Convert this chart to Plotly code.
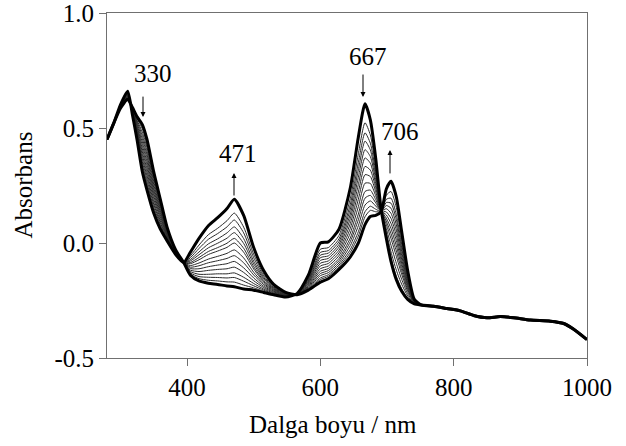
import plotly.graph_objects as go

# shared start and tail of all spectra (curves coincide there)
wl_head = [280, 290]
a_head = [0.45, 0.52]

wl_tail = [752, 770, 790, 810, 830, 850, 870, 890, 915, 945, 965, 980, 1000]
a_tail = [-0.27, -0.275, -0.285, -0.295, -0.315, -0.325, -0.32, -0.325, -0.335, -0.34,
          -0.35, -0.375, -0.42]

# wavelength grid of the changing region
wl_var = [300, 311, 318, 325, 333, 340, 350, 360, 370, 383,
          395, 405, 418, 432, 446, 460, 471, 485, 500, 515,
          530, 548, 565, 582, 600, 612, 628, 645, 657, 667,
          675, 683, 691, 699, 706, 714, 722, 731, 741]

# spectra of the titration, first (initial) to last (final)
s00 = [.585, .625, .590, .550, .515, .450, .310, .190, .070, -.030,
       -.085, -.140, -.165, -.175, -.180, -.187, -.190, -.200, -.205, -.215,
       -.225, -.235, -.220, -.140, .000, .005, .060, .240, .460, .605,
       .535, .370, .150, .020, -.080, -.160, -.210, -.245, -.265]
s01 = [.586, .628, .587, .541, .497, .430, .294, .178, .065, -.032,
       -.085, -.135, -.155, -.162, -.165, -.169, -.170, -.183, -.195, -.210,
       -.223, -.234, -.220, -.150, -.027, -.020, .033, .193, .388, .523,
       .470, .331, .149, .029, -.065, -.145, -.199, -.240, -.264]
s02 = [.587, .631, .585, .534, .482, .415, .281, .169, .060, -.033,
       -.085, -.130, -.146, -.149, -.150, -.152, -.150, -.166, -.186, -.205,
       -.220, -.233, -.221, -.156, -.041, -.033, .018, .168, .350, .479,
       .434, .310, .148, .045, -.039, -.118, -.179, -.230, -.263]
s03 = [.588, .633, .583, .527, .468, .399, .269, .160, .056, -.035,
       -.085, -.124, -.136, -.136, -.134, -.134, -.130, -.149, -.176, -.200,
       -.218, -.232, -.221, -.160, -.053, -.044, .006, .147, .318, .443,
       .405, .293, .147, .063, -.010, -.088, -.158, -.220, -.261]
s04 = [.590, .636, .581, .520, .454, .384, .256, .151, .052, -.036,
       -.085, -.118, -.124, -.119, -.115, -.112, -.105, -.128, -.164, -.194,
       -.215, -.231, -.221, -.165, -.064, -.056, -.006, .126, .286, .406,
       .376, .275, .146, .081, .019, -.058, -.136, -.210, -.259]
s05 = [.591, .638, .579, .513, .439, .369, .243, .142, .048, -.037,
       -.085, -.111, -.112, -.103, -.096, -.090, -.080, -.108, -.152, -.188,
       -.212, -.229, -.221, -.169, -.076, -.067, -.018, .106, .254, .370,
       .347, .258, .145, .095, .041, -.035, -.120, -.202, -.258]
s06 = [.592, .640, .577, .506, .425, .353, .231, .133, .044, -.039,
       -.085, -.105, -.099, -.086, -.077, -.067, -.055, -.086, -.139, -.181,
       -.209, -.228, -.222, -.174, -.088, -.078, -.031, .085, .222, .333,
       .317, .241, .144, .108, .063, -.012, -.103, -.194, -.257]
s07 = [.593, .643, .575, .499, .410, .338, .218, .124, .039, -.040,
       -.085, -.098, -.087, -.070, -.058, -.045, -.030, -.065, -.127, -.175,
       -.206, -.227, -.222, -.178, -.100, -.089, -.043, .064, .190, .297,
       .289, .223, .143, .122, .085, .011, -.087, -.186, -.256]
s08 = [.594, .645, .573, .492, .396, .322, .206, .115, .035, -.042,
       -.085, -.090, -.073, -.050, -.035, -.019, .000, -.040, -.113, -.168,
       -.203, -.225, -.222, -.183, -.112, -.100, -.055, .043, .158, .260,
       .259, .206, .142, .135, .107, .033, -.070, -.178, -.254]
s09 = [.595, .648, .571, .485, .382, .307, .193, .106, .031, -.043,
       -.085, -.085, -.063, -.037, -.020, -.001, .020, -.023, -.103, -.163,
       -.200, -.224, -.223, -.187, -.123, -.111, -.067, .022, .126, .224,
       .230, .189, .141, .149, .129, .056, -.054, -.170, -.253]
s10 = [.596, .650, .568, .478, .367, .292, .180, .096, .027, -.044,
       -.085, -.078, -.051, -.021, -.001, .021, .045, -.002, -.091, -.156,
       -.197, -.223, -.223, -.191, -.133, -.120, -.077, .006, .101, .195,
       .207, .175, .140, .163, .151, .079, -.037, -.162, -.252]
s11 = [.597, .652, .566, .472, .354, .277, .169, .088, .023, -.046,
       -.085, -.072, -.039, -.004, .018, .044, .070, .019, -.079, -.150,
       -.194, -.221, -.223, -.195, -.142, -.129, -.087, -.011, .075, .165,
       .183, .161, .139, .176, .173, .102, -.021, -.154, -.250]
s12 = [.598, .655, .565, .465, .341, .263, .157, .080, .019, -.047,
       -.085, -.064, -.024, .016, .041, .070, .100, .044, -.064, -.143,
       -.191, -.220, -.224, -.198, -.152, -.138, -.096, -.028, .049, .136,
       .160, .147, .138, .190, .195, .124, -.005, -.146, -.249]
s13 = [.599, .657, .563, .459, .328, .250, .146, .072, .015, -.048,
       -.085, -.056, -.009, .036, .064, .097, .130, .069, -.049, -.135,
       -.187, -.218, -.224, -.201, -.159, -.145, -.104, -.041, .030, .114,
       .142, .136, .137, .208, .224, .155, .017, -.136, -.248]
s14 = [.600, .660, .560, .450, .310, .230, .130, .060, .010, -.050,
       -.085, -.040, .020, .075, .110, .150, .190, .120, -.020, -.120,
       -.180, -.215, -.225, -.205, -.170, -.155, -.115, -.060, .000, .080,
       .115, .120, .135, .235, .268, .200, .050, -.120, -.245]

spectra = [s00, s01, s02, s03, s04, s05, s06, s07, s08, s09, s10, s11, s12, s13, s14]

# band labels: text, text position, arrow tail, arrow head (wavelength, absorbance)
band_text = ["330", "471", "667", "706"]
band_text_x = [349, 477, 671, 719]
band_text_y = [0.735, 0.389, 0.81, 0.485]
arrow_x = [334, 470.5, 664, 704.5]
arrow_tail_y = [0.643, 0.20, 0.739, 0.296]
arrow_head_y = [0.548, 0.304, 0.635, 0.404]

x_ticks = [400, 600, 800, 1000]
y_ticks = [-0.5, 0.0, 0.5, 1.0]

FONT = "Liberation Serif, Times New Roman, serif"
FS = 25

fig = go.Figure()
x_all = wl_head + wl_var + wl_tail
n = len(spectra)
# thin intermediate spectra first, thick extremes on top
order = list(range(1, n - 1)) + [0, n - 1]
for k in order:
    thick = k in (0, n - 1)
    fig.add_trace(go.Scatter(
        x=x_all, y=a_head + spectra[k] + a_tail, mode="lines",
        line=dict(color="#000000" if thick else "#2a2a2a",
                  width=3 if thick else 1, shape="spline", smoothing=0.6),
        hoverinfo="skip", showlegend=False))

annotations = []
for t, tx, ty in zip(band_text, band_text_x, band_text_y):
    annotations.append(dict(x=tx, y=ty, xref="x", yref="y", text=t, showarrow=False,
                            font=dict(family=FONT, size=FS, color="#000")))
for ax_, ty, hy in zip(arrow_x, arrow_tail_y, arrow_head_y):
    annotations.append(dict(x=ax_, y=hy, ax=ax_, ay=ty, xref="x", yref="y",
                            axref="x", ayref="y", text="", showarrow=True,
                            arrowhead=2, arrowsize=1, arrowwidth=1, arrowcolor="#000"))
annotations.append(dict(x=0.471, y=0, xref="paper", yref="paper", yshift=-66,
                        text="Dalga boyu / nm", showarrow=False, yanchor="middle",
                        font=dict(family=FONT, size=FS, color="#000")))
annotations.append(dict(x=0, y=0.5, xref="paper", yref="paper", xshift=-84,
                        text="Absorbans", showarrow=False, textangle=-90,
                        xanchor="center", yanchor="middle",
                        font=dict(family=FONT, size=FS, color="#000")))

fig.update_layout(
    width=626, height=446,
    margin=dict(l=107, r=39, t=13, b=88, autoexpand=False),
    paper_bgcolor="white", plot_bgcolor="white",
    font=dict(family=FONT, size=FS, color="#000"),
    annotations=annotations,
)
fig.update_xaxes(range=[280, 1000], tickvals=x_ticks, ticktext=[str(v) for v in x_ticks],
                 ticks="outside", ticklen=7, tickcolor="#707070", showline=True,
                 linecolor="#707070", linewidth=1, mirror=True, showgrid=False,
                 zeroline=False, ticklabeloverflow="allow",
                 tickfont=dict(family=FONT, size=FS, color="#000"))
fig.update_yaxes(range=[-0.5, 1.0], tickvals=y_ticks, ticktext=[f"{v:.1f}" for v in y_ticks],
                 ticks="outside", ticklen=7, tickcolor="#707070", showline=True,
                 linecolor="#707070", linewidth=1, mirror=True, showgrid=False,
                 zeroline=False, ticklabeloverflow="allow",
                 tickfont=dict(family=FONT, size=FS, color="#000"))

fig.write_html("out.html", config={"displayModeBar": False},
               post_script="document.body.style.margin='0';document.body.style.overflow='hidden';")
